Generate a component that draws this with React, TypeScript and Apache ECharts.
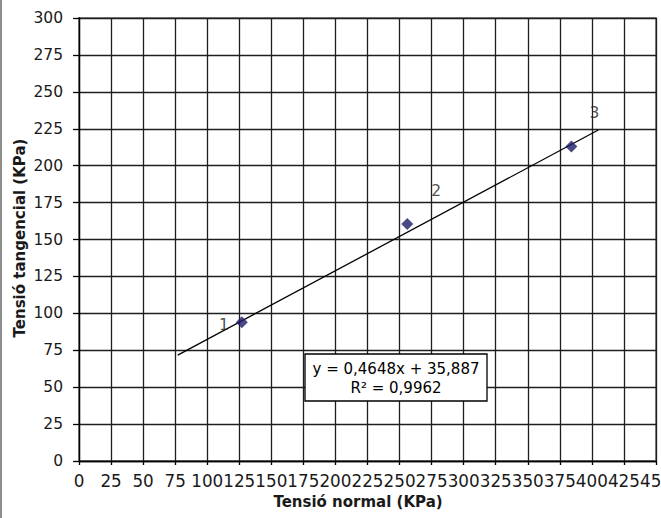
import React, { useEffect, useRef } from "react";
import * as echarts from "echarts";

const xMin = 0;
const xMax = 450;
const xStep = 25;
const yMin = 0;
const yMax = 300;
const yStep = 25;

const pointX = [127, 256, 384];
const pointY = [94, 160.5, 213];
const pointNames = ["1", "2", "3"];

const slope = 0.4648;
const intercept = 35.887;
const trendX = [77, 405];

const equationLines = ["y = 0,4648x + 35,887", "R² = 0,9962"];
const xTitle = "Tensió normal (KPa)";
const yTitle = "Tensió tangencial (KPa)";

const FONT = "DejaVu Sans";
const labelOffsets = [
  [-18, 3],
  [29, -33],
  [23, -33],
];

export default function App() {
  const ref = useRef<HTMLDivElement>(null);
  useEffect(() => {
    if (!ref.current) return;
    const chart = echarts.init(ref.current, null, { renderer: "svg" });
    const scatterData = pointX.map((x, i) => ({
      value: [x, pointY[i]],
      name: pointNames[i],
      label: { offset: labelOffsets[i] },
    }));
    const trendData = trendX.map((x) => [x, slope * x + intercept]);
    chart.setOption({
      animation: false,
      backgroundColor: "#ffffff",
      grid: {
        left: 79,
        top: 18,
        width: 577,
        height: 443,
        show: true,
        borderColor: "#8a8a8a",
        borderWidth: 2,
        backgroundColor: "transparent",
        containLabel: false,
        outerBoundsMode: "none",
      },
      xAxis: {
        type: "value",
        min: xMin,
        max: xMax,
        interval: xStep,
        axisLine: { show: true, lineStyle: { color: "#000", width: 1.3 } },
        axisTick: { show: true, length: 4, lineStyle: { color: "#000", width: 1.3 } },
        splitLine: { show: true, lineStyle: { color: "#1e1e1e", width: 1.3 } },
        axisLabel: {
          interval: 0,
          hideOverlap: false,
          margin: 11,
          fontFamily: FONT,
          fontSize: 16.8,
          color: "#1a1a1a",
        },
      },
      yAxis: {
        type: "value",
        min: yMin,
        max: yMax,
        interval: yStep,
        axisLine: { show: true, lineStyle: { color: "#000", width: 1.3 } },
        axisTick: { show: true, length: 6, lineStyle: { color: "#000", width: 1.3 } },
        splitLine: { show: true, lineStyle: { color: "#1e1e1e", width: 1.3 } },
        axisLabel: {
          margin: 16,
          fontFamily: FONT,
          fontSize: 15.5,
          color: "#1a1a1a",
        },
      },
      series: [
        {
          type: "line",
          data: trendData,
          showSymbol: false,
          symbol: "none",
          lineStyle: { color: "#000", width: 1.3 },
          z: 3,
          silent: true,
        },
        {
          type: "scatter",
          data: scatterData,
          symbol: "diamond",
          symbolSize: [12, 12],
          itemStyle: { color: "#1c1c68" },
          z: 4,
          label: {
            show: true,
            position: "inside",
            formatter: (p: any) => p.name,
            fontFamily: FONT,
            fontSize: 15.5,
            color: "#222",
            textBorderWidth: 0,
          },
        },
      ],
      graphic: [
        {
          type: "line",
          shape: { x1: 1, y1: 0, x2: 1, y2: 518 },
          style: { stroke: "#666", lineWidth: 1.5 },
        },
        {
          type: "rect",
          shape: { x: 305, y: 354, width: 182, height: 47 },
          style: { fill: "#fff", stroke: "#000", lineWidth: 1.3 },
          z: 10,
        },
        {
          type: "text",
          x: 396,
          y: 369,
          style: {
            text: equationLines[0],
            font: `15px "${FONT}"`,
            fill: "#000",
            textAlign: "center",
            textVerticalAlign: "middle",
          },
          z: 11,
        },
        {
          type: "text",
          x: 396,
          y: 388,
          style: {
            text: equationLines[1],
            font: `15px "${FONT}"`,
            fill: "#000",
            textAlign: "center",
            textVerticalAlign: "middle",
          },
          z: 11,
        },
        {
          type: "text",
          x: 358,
          y: 502,
          style: {
            text: xTitle,
            font: `bold 15px "${FONT}"`,
            fill: "#1a1a1a",
            textAlign: "center",
            textVerticalAlign: "middle",
          },
        },
        {
          type: "text",
          x: 20,
          y: 238,
          rotation: Math.PI / 2,
          style: {
            text: yTitle,
            font: `bold 15px "${FONT}"`,
            fill: "#1a1a1a",
            textAlign: "center",
            textVerticalAlign: "middle",
          },
        },
      ],
    });
    return () => chart.dispose();
  }, []);
  return (
    <div
      ref={ref}
      style={{ position: "fixed", left: 0, top: 0, width: 661, height: 518, background: "#fff" }}
    />
  );
}
